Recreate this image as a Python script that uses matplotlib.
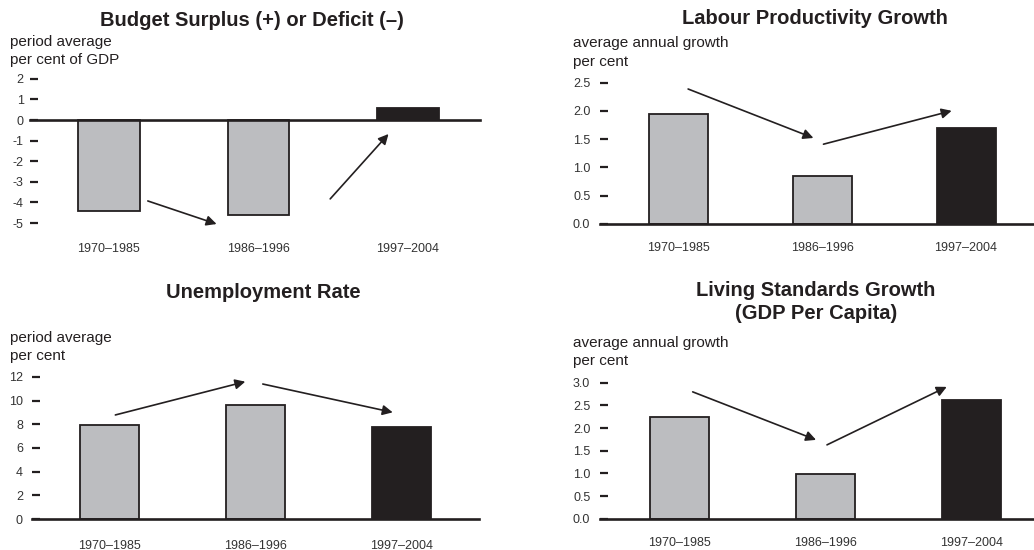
import matplotlib.pyplot as plt

plt.rcParams['font.family'] = ['Liberation Sans', 'DejaVu Sans']

W, H = 1034, 550
INK = '#231f20'
GREY = '#bcbdc0'

periods = ['1970–1985', '1986–1996', '1997–2004']

budget = [-4.4, -4.6, 0.6]
productivity = [1.94, 0.85, 1.70]
unemployment = [7.9, 9.6, 7.75]
living = [2.24, 0.99, 2.62]

budget_ticks = [2, 1, 0, -1, -2, -3, -4, -5]
prod_ticks = [0.0, 0.5, 1.0, 1.5, 2.0, 2.5]
unemp_ticks = [0, 2, 4, 6, 8, 10, 12]
living_ticks = [0.0, 0.5, 1.0, 1.5, 2.0, 2.5, 3.0]

# trend arrows (start, end) in data coords
budget_arrows = [((0.26, -3.93), (0.72, -5.05)), ((1.48, -3.83), (1.87, -0.68))]
prod_arrows = [((0.07, 2.385), (0.94, 1.52)), ((1.01, 1.41), (1.90, 2.0))]
unemp_arrows = [((0.04, 8.78), (0.93, 11.59)), ((1.05, 11.39), (1.94, 9.0))]
living_arrows = [((0.09, 2.80), (0.935, 1.74)), ((1.01, 1.63), (1.83, 2.91))]

fig = plt.figure(figsize=(W / 100, H / 100), dpi=100)


def panel(vals, ticks, fmt, arrows, title, ylab, left, right, xlim,
          zero, scale, ylim, lab_top, tick_pad, title_xy, ylab_xy):
    top = zero - ylim[1] * scale
    bottom = zero - ylim[0] * scale
    ax = fig.add_axes([left / W, 1 - bottom / H, (right - left) / W, (bottom - top) / H])
    ax.set_xlim(*xlim)
    ax.set_ylim(*ylim)
    for s in ax.spines.values():
        s.set_visible(False)
    cols = [GREY, GREY, INK]
    ax.bar(range(3), vals, width=0.41, color=cols, edgecolor=INK, linewidth=1.3, zorder=2)
    ax.axhline(0, color=INK, lw=1.9, clip_on=False, zorder=3)
    ax.set_xticks(range(3))
    ax.set_xticklabels(periods, fontsize=9, color='#333333')
    ax.tick_params(axis='x', length=0, pad=(lab_top - bottom) * 0.72)
    ax.set_yticks(ticks)
    ax.set_yticklabels([fmt.format(t) for t in ticks], fontsize=9, color='#333333')
    ax.tick_params(axis='y', direction='in', length=5.5, width=1.6, color=INK, pad=tick_pad)
    for a, b in arrows:
        ax.annotate('', xy=b, xytext=a,
                    arrowprops=dict(arrowstyle='-|>', lw=1.2, color=INK,
                                    mutation_scale=15, shrinkA=0, shrinkB=0))
    fig.text(title_xy[0] / W, 1 - title_xy[1] / H, title, ha='center', va='center',
             fontsize=14.5, fontweight='bold', color=INK, linespacing=1.3)
    fig.text(ylab_xy[0] / W, 1 - ylab_xy[1] / H, ylab, ha='left', va='center',
             fontsize=11, color=INK, linespacing=1.4)
    return ax


panel(budget, budget_ticks, '{:d}', budget_arrows,
      'Budget Surplus (+) or Deficit (–)', 'period average\nper cent of GDP',
      30, 480, (-0.528, 2.482), 120, 20.6, (-5.5, 2.3), 243, 4.5,
      (252, 20), (10, 51))

panel(productivity, prod_ticks, '{:.1f}', prod_arrows,
      'Labour Productivity Growth', 'average annual growth\nper cent',
      600, 1034, (-0.542, 2.472), 224, 56.6, (0, 2.6), 241.7, 7,
      (815, 18), (573, 52.5))

panel(unemployment, unemp_ticks, '{:d}', unemp_arrows,
      'Unemployment Rate', 'period average\nper cent',
      32, 479, (-0.531, 2.531), 519, 11.85, (0, 12.5), 540, 6.5,
      (263, 293), (10, 347))

panel(living, living_ticks, '{:.1f}', living_arrows,
      'Living Standards Growth\n(GDP Per Capita)', 'average annual growth\nper cent',
      600, 1034, (-0.545, 2.428), 518.7, 45.3, (0, 3.2), 536.7, 7,
      (816, 302), (573, 352))

fig.savefig('out.png', dpi=100)
